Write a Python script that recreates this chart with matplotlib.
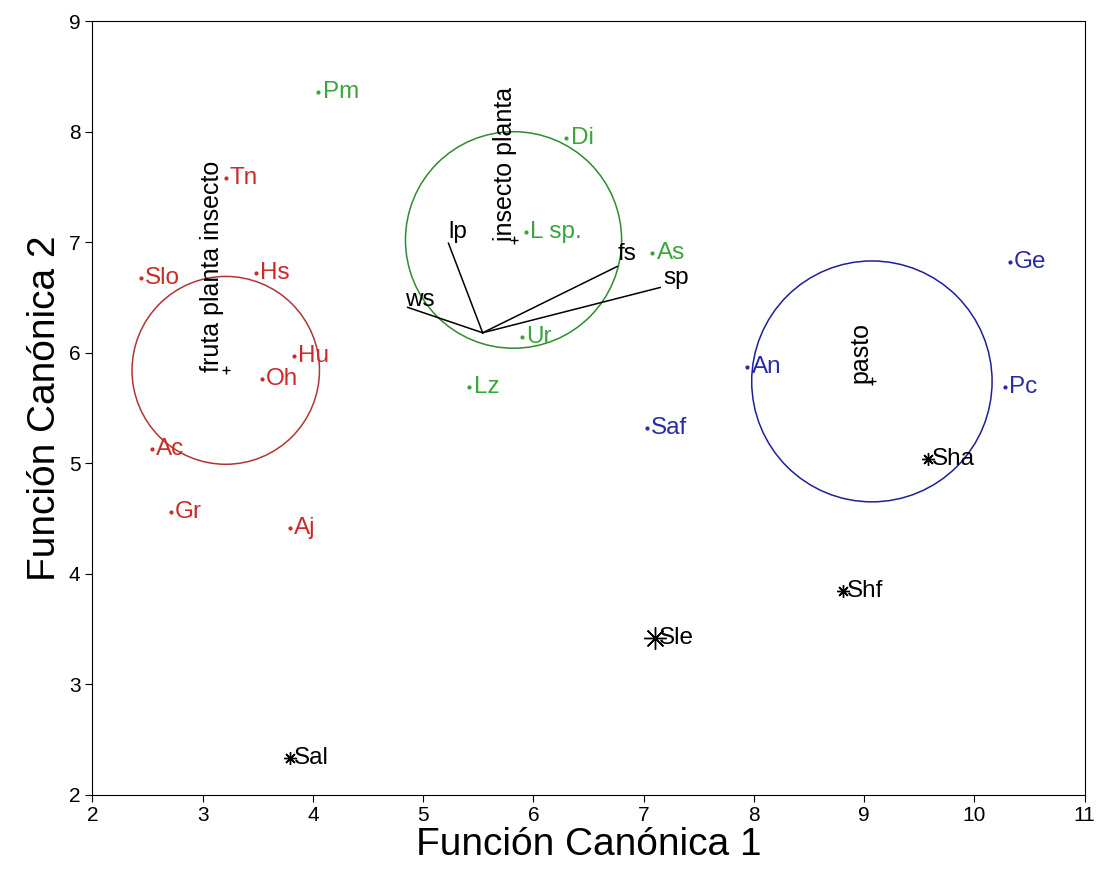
import matplotlib.pyplot as plt
from matplotlib.patches import Circle

plt.rcParams['font.family'] = ['Liberation Sans', 'DejaVu Sans']

# group 1 (red) - fruta planta insecto
red_names = ['Tn', 'Slo', 'Hs', 'Hu', 'Oh', 'Ac', 'Gr', 'Aj']
red_x = [3.21, 2.44, 3.48, 3.83, 3.54, 2.54, 2.71, 3.79]
red_y = [7.58, 6.68, 6.72, 5.97, 5.76, 5.13, 4.56, 4.41]
red_centroid = (3.21, 5.84)
red_radius = 0.85

# group 2 (green) - insecto planta
green_names = ['Pm', 'Di', 'L sp.', 'As', 'Ur', 'Lz']
green_x = [4.05, 6.30, 5.93, 7.08, 5.90, 5.42]
green_y = [8.36, 7.94, 7.09, 6.90, 6.14, 5.69]
green_centroid = (5.82, 7.02)
green_radius = 0.98

# group 3 (blue) - pasto
blue_names = ['Ge', 'An', 'Pc', 'Saf']
blue_x = [10.32, 7.94, 10.28, 7.03]
blue_y = [6.82, 5.87, 5.69, 5.32]
blue_centroid = (9.07, 5.74)
blue_radius = 1.09

# unassigned (black stars)
star_names = ['Sha', 'Shf', 'Sle', 'Sal']
star_x = [9.58, 8.81, 7.10, 3.79]
star_y = [5.04, 3.84, 3.42, 2.33]

# structure vectors
vec_origin = (5.54, 6.18)
vec_names = ['lp', 'ws', 'fs', 'sp']
vec_x = [5.23, 4.86, 6.76, 7.15]
vec_y = [6.99, 6.41, 6.78, 6.59]

fig = plt.figure(figsize=(10.99, 8.82), dpi=100)
ax = fig.add_axes([0.084, 0.099, 0.903, 0.877])

groups = [
    (red_names, red_x, red_y, red_centroid, red_radius, '#cc2a2a', '#b03535', 'fruta planta insecto', -10),
    (green_names, green_x, green_y, green_centroid, green_radius, '#3aa53a', '#2e8b2e', 'insecto planta', -6),
    (blue_names, blue_x, blue_y, blue_centroid, blue_radius, '#2a2aa8', '#1f1f99', 'pasto', -8),
]

for names, xs, ys, cen, rad, col, ccol, glabel, dx in groups:
    ax.plot(xs, ys, linestyle='none', marker='o', markersize=2, color=col)
    for n, x, y in zip(names, xs, ys):
        ax.annotate(n, (x, y), xytext=(3, 0), textcoords='offset points',
                    va='center', ha='left', fontsize=17.5, color=col)
    ax.add_patch(Circle(cen, rad, fill=False, edgecolor=ccol, linewidth=1.1))
    ax.plot(cen[0], cen[1], marker='+', markersize=6, color='black', mew=1)
    ax.annotate(glabel, cen, xytext=(dx, -1), textcoords='offset points',
                rotation=90, va='bottom', ha='center', fontsize=18, color='black')

sizes = [9, 9, 16, 9]
for n, x, y, s in zip(star_names, star_x, star_y, sizes):
    ax.plot(x, y, linestyle='none', marker=(8, 2, 0), markersize=s, color='black', mew=1)
    ax.annotate(n, (x, y), xytext=(3, 0), textcoords='offset points',
                va='center', ha='left', fontsize=17.5, color='black')

for n, x, y in zip(vec_names, vec_x, vec_y):
    ax.plot([vec_origin[0], x], [vec_origin[1], y], color='black', linewidth=1.1)
offsets = [(0, 8), (-2, 5), (0, 9), (2, 7)]
for n, x, y, off in zip(vec_names, vec_x, vec_y, offsets):
    ax.annotate(n, (x, y), xytext=off, textcoords='offset points',
                va='center', ha='left', fontsize=17.5, color='black')

ax.set_xlim(2, 11)
ax.set_ylim(2, 9)
ax.set_xticks(range(2, 12))
ax.set_yticks(range(2, 10))
ax.tick_params(labelsize=15, direction='out', length=5)
ax.set_xlabel('Función Canónica 1', fontsize=28, labelpad=1)
ax.set_ylabel('Función Canónica 2', fontsize=28, labelpad=4)

plt.savefig('out.png')
plt.close()
